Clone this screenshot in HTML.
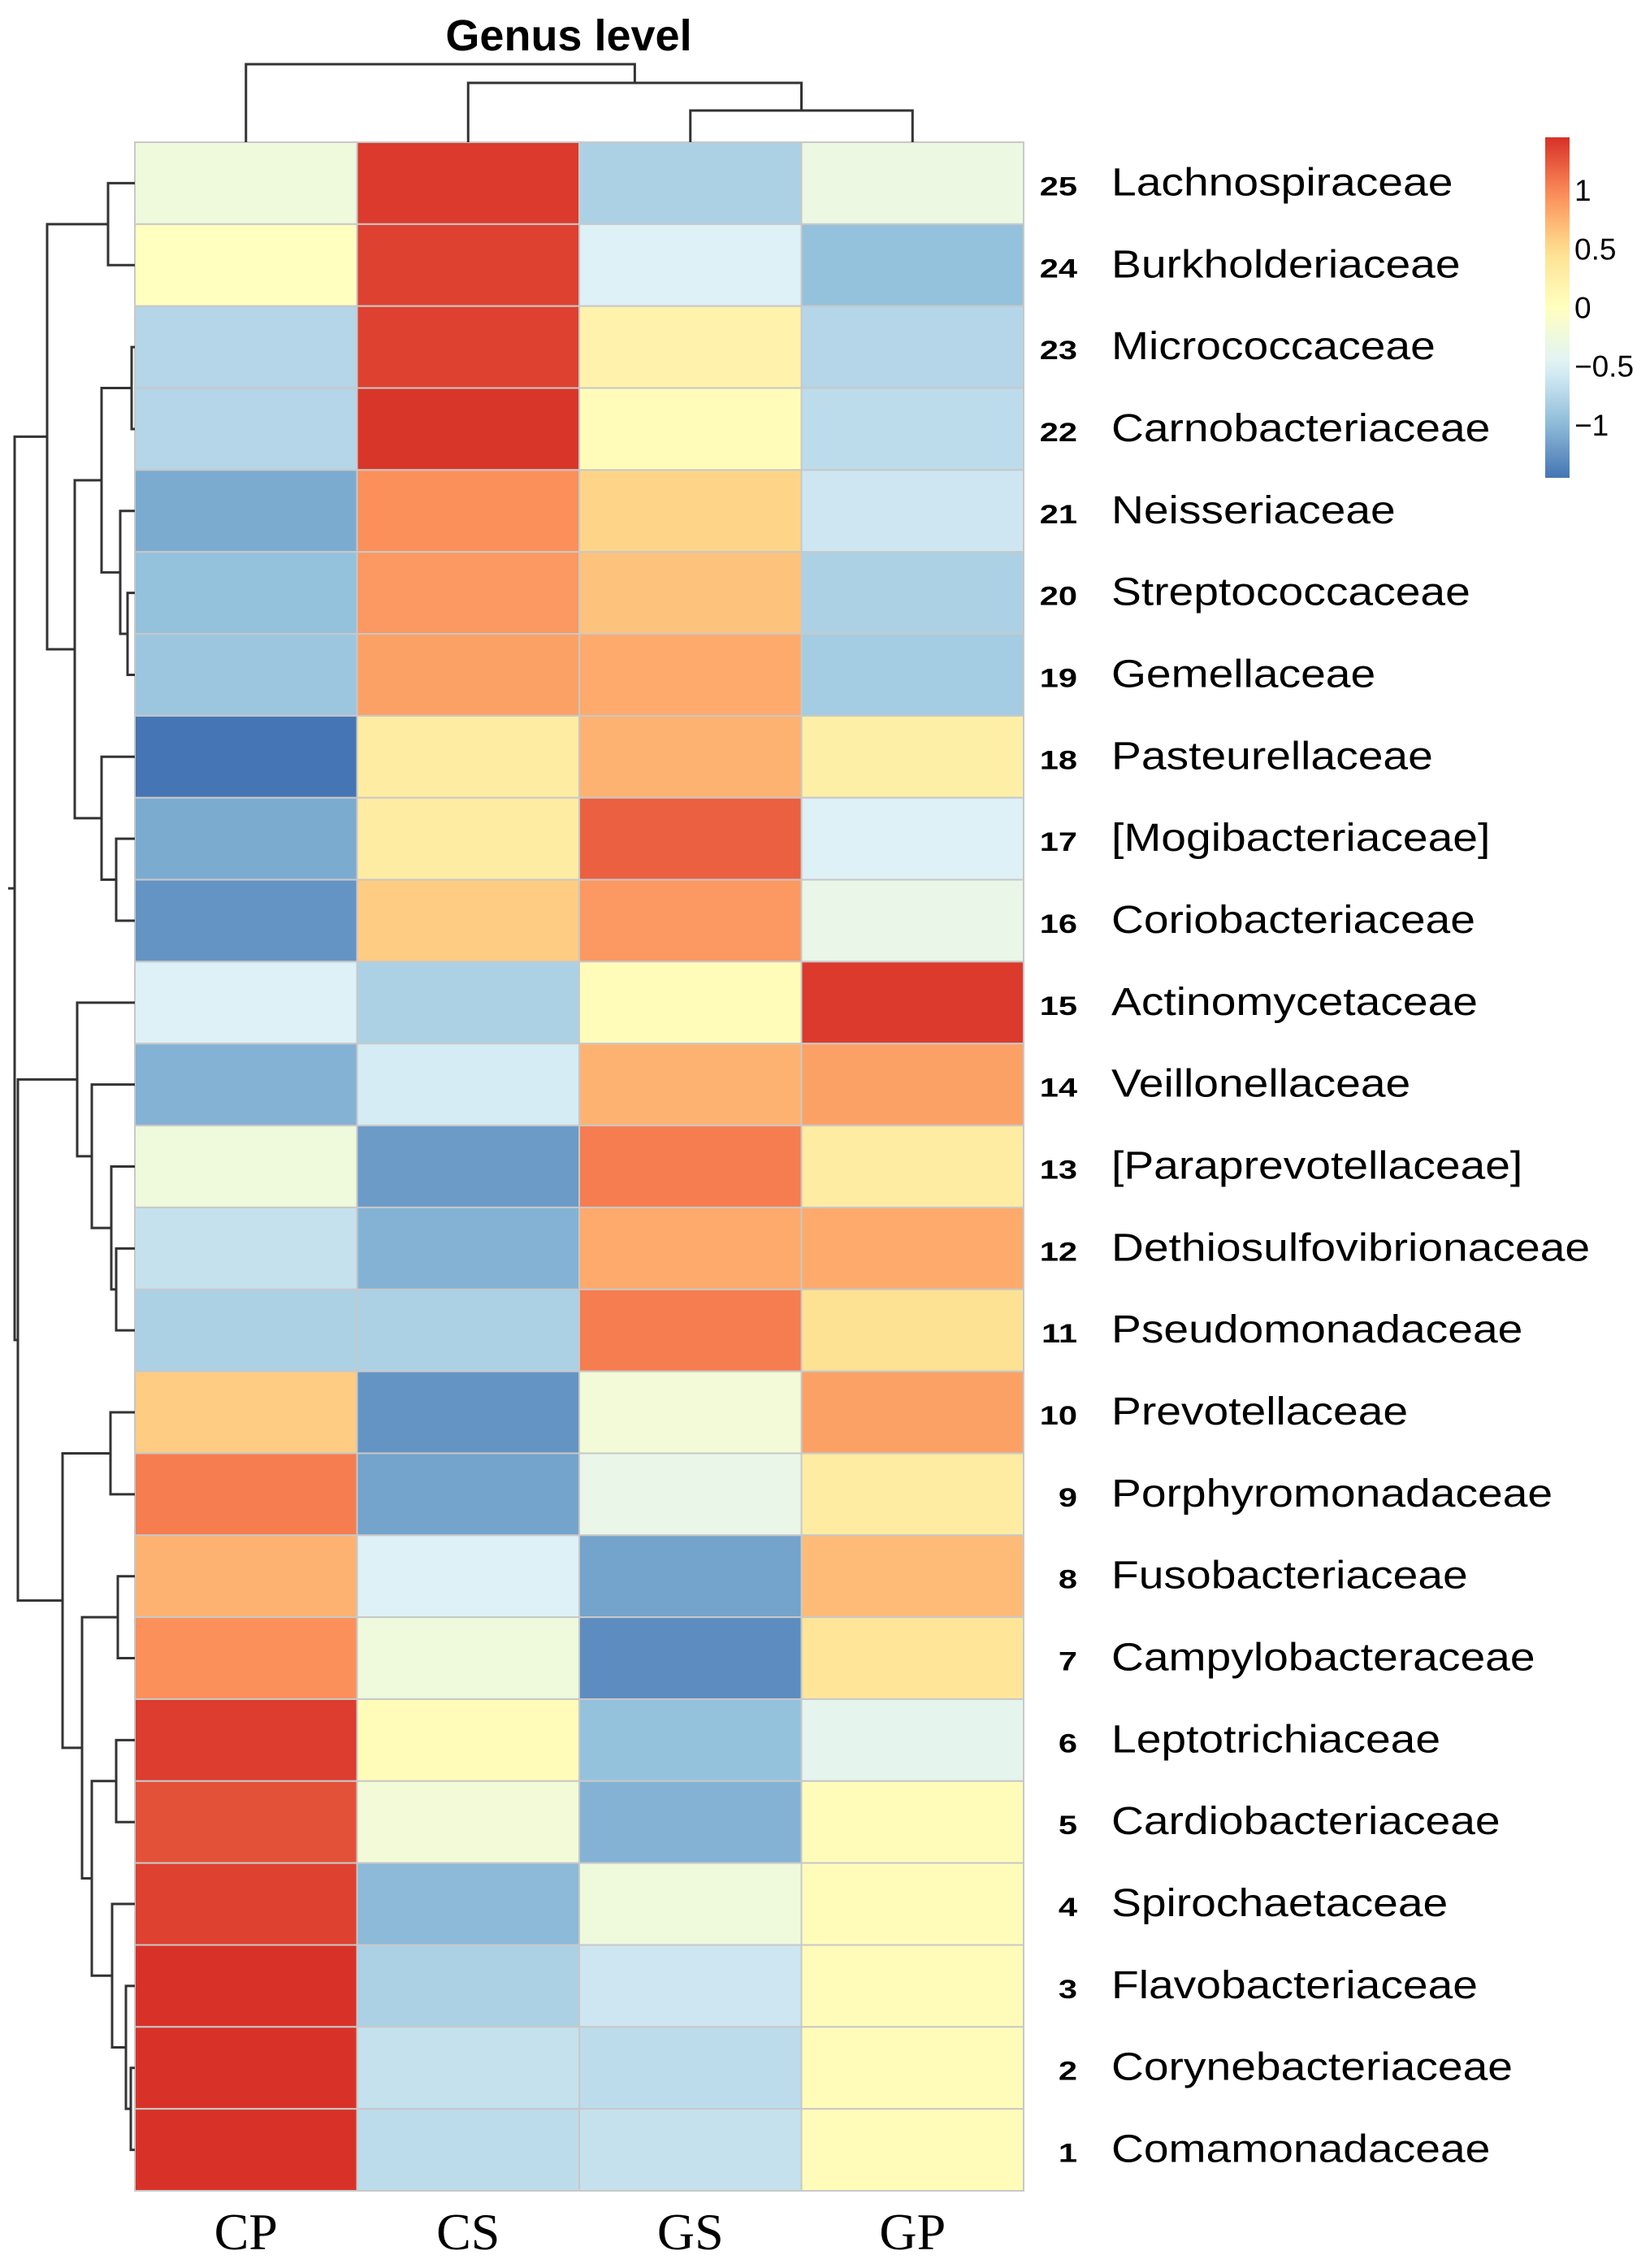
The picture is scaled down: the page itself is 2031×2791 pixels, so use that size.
<!DOCTYPE html>
<html><head><meta charset="utf-8"><style>
html,body{margin:0;padding:0;background:#fff;}
svg{display:block;}
</style></head><body>
<svg id="chart" width="2031" height="2791" viewBox="0 0 2031 2791" xmlns="http://www.w3.org/2000/svg">
<text x="700" y="62" text-anchor="middle" font-family="Liberation Sans, sans-serif" font-weight="bold" font-size="54" fill="#000">Genus level</text>
<g id="cells"></g><g id="rowlabels"></g><g id="collabels"></g><g id="rowdend"></g><g id="coldend"></g><g id="legend"></g>
</svg>
<script>
const columns = ["CP","CS","GS","GP"];
const rowNumbers = [25,24,23,22,21,20,19,18,17,16,15,14,13,12,11,10,9,8,7,6,5,4,3,2,1];
const rowNames = ["Lachnospiraceae","Burkholderiaceae","Micrococcaceae","Carnobacteriaceae","Neisseriaceae","Streptococcaceae","Gemellaceae","Pasteurellaceae","[Mogibacteriaceae]","Coriobacteriaceae","Actinomycetaceae","Veillonellaceae","[Paraprevotellaceae]","Dethiosulfovibrionaceae","Pseudomonadaceae","Prevotellaceae","Porphyromonadaceae","Fusobacteriaceae","Campylobacteraceae","Leptotrichiaceae","Cardiobacteriaceae","Spirochaetaceae","Flavobacteriaceae","Corynebacteriaceae","Comamonadaceae"];
const valuesCP = [-0.25,0.0,-0.75,-0.75,-1.1,-0.95,-0.9,-1.45,-1.1,-1.25,-0.5,-1.05,-0.25,-0.65,-0.8,0.6,1.05,0.75,0.95,1.38,1.28,1.36,1.44,1.44,1.44];
const valuesCS = [1.4,1.36,1.36,1.42,0.95,0.9,0.85,0.3,0.3,0.6,-0.8,-0.55,-1.2,-1.05,-0.8,-1.25,-1.15,-0.5,-0.25,0.05,-0.2,-1.0,-0.8,-0.65,-0.7];
const valuesGS = [-0.8,-0.5,0.2,0.05,0.55,0.65,0.8,0.75,1.2,0.9,0.05,0.75,1.05,0.8,1.05,-0.2,-0.35,-1.15,-1.3,-0.95,-1.05,-0.25,-0.6,-0.7,-0.65];
const valuesGP = [-0.3,-0.95,-0.75,-0.7,-0.6,-0.8,-0.85,0.25,-0.5,-0.35,1.4,0.85,0.3,0.8,0.45,0.85,0.3,0.7,0.4,-0.4,0.05,0.05,0.05,0.05,0.05];
const legendTicks = [1,0.5,0,-0.5,-1];
const legendTickLabels = ["1","0.5","0","\u22120.5","\u22121"];

const NS="http://www.w3.org/2000/svg";
function mk(tag,attrs,parent){const e=document.createElementNS(NS,tag);for(const k in attrs)e.setAttribute(k,attrs[k]);parent.appendChild(e);return e;}
const vmin=-1.45,vmax=1.45;
const pal=["#4575B4","#91BFDB","#E0F3F8","#FFFFBF","#FEE090","#FC8D59","#D73027"];
function hex(h){return [1,3,5].map(i=>parseInt(h.substr(i,2),16));}
function color(v){let t=(v-vmin)/(vmax-vmin);t=Math.max(0,Math.min(1,t))*6;const i=Math.min(5,Math.floor(t)),f=t-i;const a=hex(pal[i]),b=hex(pal[i+1]);return "rgb("+a.map((x,k)=>Math.round(x+(b[k]-x)*f)).join(",")+")";}
const X0=166,X1=1260,Y0=175,Y1=2696;
const cw=(X1-X0)/columns.length, rh=(Y1-Y0)/rowNames.length;
const xOf=c=>X0+c*cw, yOf=r=>Y0+r*rh;
const series=[valuesCP,valuesCS,valuesGS,valuesGP];
const cells=document.getElementById('cells');
for(let c=0;c<columns.length;c++){for(let r=0;r<rowNames.length;r++){
 const e=mk('rect',{x:xOf(c),y:yOf(r),width:cw,height:rh,fill:color(series[c][r]),stroke:"#c8c8c8","stroke-width":2},cells);
 
 
}}
const rl=document.getElementById('rowlabels');
for(let r=0;r<rowNames.length;r++){
 const cy=yOf(r)+rh/2+15;
 const n=mk('text',{x:0,y:0,transform:"translate(1326,"+cy+") scale(1.3,1)","text-anchor":"end","font-family":"Liberation Sans, sans-serif","font-weight":"bold","font-size":32,fill:"#000"},rl);
 n.textContent=rowNumbers[r];
 
 
 const t=mk('text',{x:0,y:0,transform:"translate(1368,"+cy+") scale(1.15,1)","font-family":"Liberation Sans, sans-serif","font-size":48,fill:"#000"},rl);
 t.textContent=rowNames[r];
 
 
}
const cl=document.getElementById('collabels');
for(let c=0;c<columns.length;c++){
 const t=mk('text',{x:xOf(c)+cw/2,y:2768,"text-anchor":"middle","font-family":"Liberation Serif, serif","font-size":64,fill:"#000"},cl);
 t.textContent=columns[c];
 
 
}
const rowTree=[[[0,1,133],[[[2,3,162],[4,[5,6,157],148],125],[7,[8,9,143],125],92],58],[[10,[11,[12,[13,14,143],137],113],95],[[15,16,136],[[17,18,145],[[19,20,143],[21,[22,[23,24,161],155],138],113],101],77],22],18];
const rd=document.getElementById('rowdend');
function drawRow(node){ if(typeof node==="number") return {y:yOf(node)+rh/2,x:X0};
 const a=drawRow(node[0]),b=drawRow(node[1]),h=node[2];
 const p=mk('path',{d:"M"+a.x+","+a.y+"H"+h+"V"+b.y+"H"+b.x,fill:"none",stroke:"#333","stroke-width":3},rd);
 
 
 return {y:(a.y+b.y)/2,x:h};}
const rootR=drawRow(rowTree);
mk('path',{d:"M"+rootR.x+","+rootR.y+"H10",stroke:"#333","stroke-width":3},rd);
const colTree=[0,[1,[2,3,136],102],79];
const cd=document.getElementById('coldend');
function drawCol(node){ if(typeof node==="number") return {x:xOf(node)+cw/2,y:Y0};
 const a=drawCol(node[0]),b=drawCol(node[1]),h=node[2];
 const p=mk('path',{d:"M"+a.x+","+a.y+"V"+h+"H"+b.x+"V"+b.y,fill:"none",stroke:"#333","stroke-width":3},cd);
 
 
 return {x:(a.x+b.x)/2,y:h};}
drawCol(colTree);
const lg=document.getElementById('legend');
const LY0=169,LY1=588;
const ly=v=>LY0+(vmax-v)/(vmax-vmin)*(LY1-LY0);
const defs=mk('defs',{},lg);
const grad=mk('linearGradient',{id:"lgrad",x1:0,y1:1,x2:0,y2:0},defs);
for(let i=0;i<=20;i++){const v=vmin+(vmax-vmin)*i/20;mk('stop',{offset:(i/20),"stop-color":color(v)},grad);}
const bar=mk('rect',{x:1902,y:LY0,width:30,height:LY1-LY0,fill:"url(#lgrad)"},lg);


for(let i=0;i<legendTicks.length;i++){
 const t=mk('text',{x:1938,y:ly(legendTicks[i])+13,"font-family":"Liberation Sans, sans-serif","font-size":37,fill:"#000"},lg);
 t.textContent=legendTickLabels[i];
 
 
}
</script>
</body></html>
